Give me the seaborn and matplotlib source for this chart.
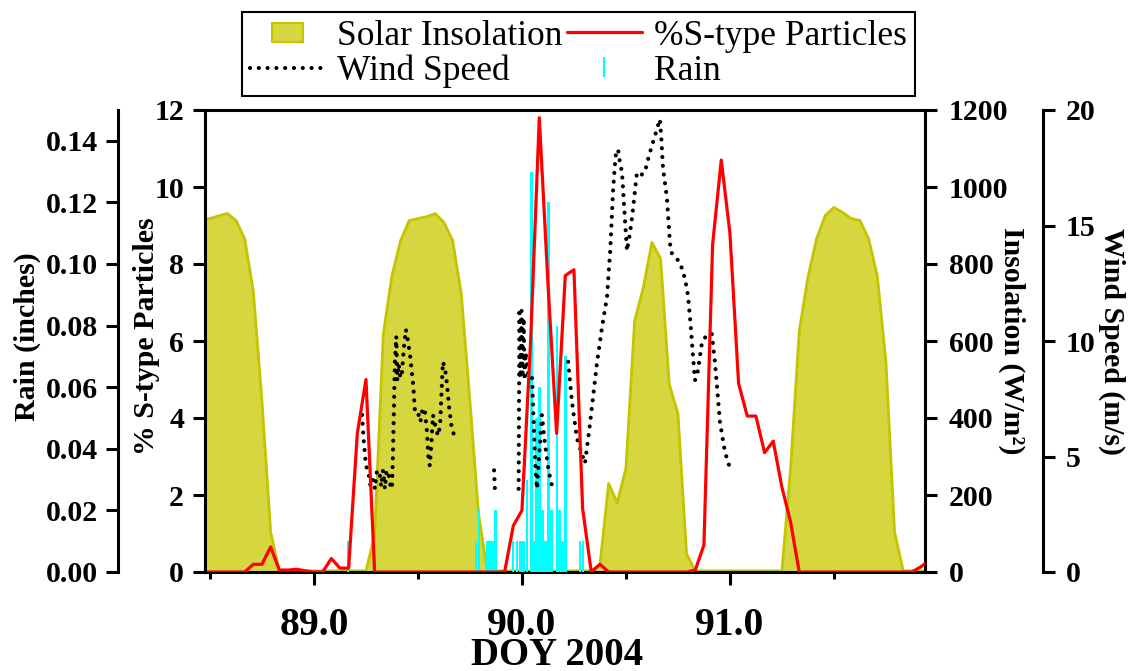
import numpy as np
import pandas as pd
import matplotlib
matplotlib.use("Agg")
import matplotlib.pyplot as plt
import seaborn as sns
from matplotlib.lines import Line2D
from matplotlib.patches import Patch, Rectangle
from matplotlib.legend_handler import HandlerPatch
from matplotlib.ticker import MultipleLocator, FixedLocator, FormatStrFormatter

# ---------------------------------------------------------------------------
# Data
# ---------------------------------------------------------------------------
# Hourly time base: DOY 88 10:00 through DOY 91 23:00
hour_day = 88 + np.arange(10, 96) / 24.0

# Solar insolation (W/m^2), hourly
solar_wm2 = [
    905, 915, 918, 925, 931, 913, 866, 730, 443, 104, 3, 3, 3, 3,                      # DOY 88
    3, 3, 3, 3, 3, 3, 3, 96, 618, 770, 861, 913, 918, 923, 931, 908, 861, 723, 443, 150, 3, 3, 3, 3,   # DOY 89
    3, 3, 3, 3, 3, 3, 3, 3, 3, 18, 230, 180, 270, 652, 738, 856, 814, 488, 412, 47, 3, 3, 3, 3,       # DOY 90
    3, 3, 3, 3, 3, 3, 3, 269, 626, 765, 866, 926, 947, 934, 918, 913, 866, 770, 548, 104, 3, 3, 3, 3, # DOY 91
]

# Percentage of S-type particles, hourly
pct_s = [
    0, 0, 0, 0, 0, 0, 0, 0.2, 0.2, 0.65, 0.05, 0.05, 0.07, 0.03,                                  # DOY 88
    0, 0, 0.35, 0.1, 0.1, 3.6, 5.0, 0, 0, 0, 0, 0, 0, 0, 0, 0, 0, 0, 0, 0, 0, 0, 0, 1.2,          # DOY 89
    1.6, 6.0, 11.8, 7.5, 3.6, 7.7, 7.85, 1.65, 0, 0.2, 0, 0, 0, 0, 0, 0, 0, 0, 0, 0, 0.05, 0.7, 8.5, 10.7,  # DOY 90
    8.8, 4.9, 4.05, 4.05, 3.1, 3.4, 2.2, 1.3, 0, 0, 0, 0, 0, 0, 0, 0, 0, 0, 0, 0, 0, 0, 0.13, 0.3,  # DOY 91
]

# Wind speed (m/s); the record has gaps, so it is split into segments
wind_day = [
    89.231, 89.240, 89.250, 89.262, 89.272, 89.284, 89.293, 89.303, 89.315, 89.323,
    89.332, 89.341, 89.348, 89.356, 89.366, 89.375, 89.380, 89.389, 89.396, 89.400,
    89.408, 89.415, 89.423, 89.432, 89.442, 89.452, 89.463, 89.477, 89.486, 89.500,
    89.512, 89.522, 89.534, 89.543, 89.550, 89.557, 89.565, 89.572, 89.582, 89.596,
    89.606, 89.620, 89.630, 89.640, 89.650, 89.663, 89.675, 89.688,
    89.866, 89.870,
    89.984, 89.988, 89.993, 89.998, 90.003, 90.008, 90.013, 90.018, 90.030, 90.048,
    90.058, 90.066, 90.072, 90.096, 90.110, 90.128, 90.150,
    90.222, 90.240, 90.264, 90.285, 90.303, 90.327, 90.360, 90.385, 90.409, 90.425,
    90.438, 90.450, 90.462, 90.470, 90.481, 90.495, 90.505, 90.518, 90.529, 90.553,
    90.575, 90.591, 90.610, 90.630, 90.650, 90.663, 90.670, 90.678, 90.697, 90.712,
    90.721, 90.740, 90.760, 90.784, 90.798, 90.812, 90.822, 90.832, 90.846, 90.865,
    90.890, 90.913, 90.928, 90.952, 90.976, 91.000,
]
wind_speed = [
    6.8, 5.6, 4.6, 4.3, 3.7, 4.0, 3.6, 4.4, 4.3, 3.7,
    4.4, 3.6, 4.3, 4.4, 3.8, 3.6, 5.2, 9.1, 10.2, 8.3,
    9.0, 8.4, 8.6, 9.7, 10.5, 10.0, 9.3, 8.1, 6.9, 6.9,
    6.5, 7.1, 6.9, 6.1, 5.0, 4.6, 5.6, 6.8, 6.4, 5.9,
    6.3, 9.1, 8.8, 8.1, 7.1, 6.2, 5.9, 5.7,
    4.4, 3.6,
    3.6, 11.4, 8.4, 11.3, 8.6, 11.0, 8.3, 9.5, 8.6, 8.6,
    6.0, 4.3, 3.6, 6.8, 5.6, 4.4, 3.5,
    9.1, 7.4, 5.8, 5.2, 4.7, 6.4, 9.0, 10.6, 11.9, 14.0,
    16.5, 18.0, 18.3, 17.8, 17.3, 15.3, 13.9, 14.6, 15.3, 17.3,
    17.2, 17.3, 18.0, 18.6, 19.2, 19.6, 18.8, 17.5, 16.2, 14.2,
    13.8, 13.6, 13.4, 12.7, 12.0, 10.6, 9.4, 8.3, 8.7, 9.9,
    10.3, 10.3, 9.1, 6.5, 5.2, 4.5,
]
wind_seg = [1] * 48 + [2] * 2 + [3] * 17 + [4] * 46

# Rain (inches)
rain_day = [
    89.164, 89.779, 89.793, 89.834, 89.846, 89.858, 89.873, 89.957, 89.976, 89.993,
    90.007, 90.024, 90.046, 90.060, 90.070, 90.084, 90.099, 90.113, 90.127, 90.142,
    90.168, 90.180, 90.195, 90.209, 90.279, 90.293,
]
rain_in = [
    0.01, 0.01, 0.02, 0.01, 0.01, 0.01, 0.02, 0.01, 0.01, 0.01,
    0.01, 0.03, 0.13, 0.01, 0.05, 0.06, 0.02, 0.01, 0.12, 0.02,
    0.08, 0.02, 0.01, 0.07, 0.01, 0.01,
]

x_major = [89.0, 90.0, 91.0]
x_minor = [88.5, 89.5, 90.5, 91.5]

SOLAR_FILL = "#d6d63e"
SOLAR_EDGE = "#c4c400"
RED = "#ff0000"
CYAN = "#00ffff"
WIND_LW = 3.0
WIND_DOTS = (0, (0.01, 2.1))

# ---------------------------------------------------------------------------
# Style
# ---------------------------------------------------------------------------
sns.set_theme(style="ticks")
plt.rcParams.update({
    "font.family": ["Liberation Serif", "DejaVu Serif"],
    "font.weight": "bold",
    "axes.labelweight": "bold",
    "text.color": "black",
    "axes.labelcolor": "black",
    "axes.edgecolor": "black",
    "xtick.color": "black",
    "ytick.color": "black",
    "axes.linewidth": 2.2,
})

fig = plt.figure(figsize=(11.34, 6.71), dpi=100)
FW, FH = 1134, 671
L, R, B, T = 205, 925, 572, 110
ax_ins = fig.add_axes([L / FW, 1 - B / FH, (R - L) / FW, (B - T) / FH])
ax_rain = ax_ins.twinx()
ax_wind = ax_ins.twinx()
ax_s = ax_ins.twinx()

# Solar insolation: filled area with outline
ax_ins.fill_between(hour_day, solar_wm2, 0, color=SOLAR_FILL, lw=0, zorder=1)
sns.lineplot(x=hour_day, y=solar_wm2, color=SOLAR_EDGE, lw=2.0, ax=ax_ins, zorder=2)

# Rain bars
ax_rain.bar(rain_day, rain_in, width=0.011, color=CYAN, lw=0)

# Wind speed, dotted, one line per continuous segment
wind_df = pd.DataFrame({"day": wind_day, "speed": wind_speed, "seg": wind_seg})
sns.lineplot(data=wind_df, x="day", y="speed", units="seg", estimator=None,
             sort=False, color="black", lw=WIND_LW, linestyle=WIND_DOTS,
             dash_capstyle="round", ax=ax_wind, legend=False)

# S-type particle percentage
sns.lineplot(x=hour_day, y=pct_s, color=RED, lw=2.3, ax=ax_s)

# ---------------------------------------------------------------------------
# Axes
# ---------------------------------------------------------------------------
for a in (ax_ins, ax_rain, ax_wind, ax_s):
    a.set_xlim(88.476, 91.938)
    a.patch.set_visible(False)
ax_ins.set_ylim(0, 1200)
ax_rain.set_ylim(0, 0.15)
ax_wind.set_ylim(0, 20)
ax_s.set_ylim(0, 12)

# spines
for side in ("top", "bottom", "right"):
    ax_ins.spines[side].set_visible(True)
    ax_ins.spines[side].set_linewidth(2.2)
ax_ins.spines["left"].set_visible(False)
for a, keep in ((ax_rain, "left"), (ax_wind, "right"), (ax_s, "left")):
    for side in ("top", "bottom", "left", "right"):
        a.spines[side].set_visible(side == keep)
    a.spines[keep].set_linewidth(2.2)
ax_rain.spines["left"].set_position(("outward", 62.6))
ax_wind.spines["right"].set_position(("outward", 85))

# x axis
ax_ins.xaxis.set_major_locator(FixedLocator(x_major))
ax_ins.xaxis.set_minor_locator(FixedLocator(x_minor))
ax_ins.xaxis.set_major_formatter(FormatStrFormatter("%.1f"))
ax_ins.tick_params(axis="x", which="major", direction="out", length=9.4, width=2.2,
                   labelsize=28.5, pad=16, bottom=True, top=False)
ax_ins.tick_params(axis="x", which="minor", direction="out", length=5, width=2.2,
                   bottom=True, top=False)

# insolation axis (right)
ax_ins.yaxis.tick_right()
ax_ins.yaxis.set_label_position("right")
ax_ins.yaxis.set_major_locator(MultipleLocator(200))
ax_ins.tick_params(axis="y", which="both", right=True, left=False, labelright=True,
                   labelleft=False, direction="out", length=8.6, width=2.2,
                   labelsize=21.5, pad=8.5)

# rain axis (far left)
ax_rain.yaxis.tick_left()
ax_rain.yaxis.set_label_position("left")
ax_rain.yaxis.set_major_locator(MultipleLocator(0.02))
ax_rain.yaxis.set_major_formatter(FormatStrFormatter("%.2f"))
ax_rain.tick_params(axis="y", left=True, right=False, labelleft=True, labelright=False,
                    direction="out", length=8.6, width=2.2, labelsize=21.5, pad=6)

# wind axis (far right)
ax_wind.yaxis.set_major_locator(MultipleLocator(5))
ax_wind.tick_params(axis="y", right=True, left=False, labelright=True, labelleft=False,
                    direction="out", length=8.6, width=2.2, labelsize=21.5, pad=8)

# S-type axis (left)
ax_s.yaxis.tick_left()
ax_s.yaxis.set_label_position("left")
ax_s.yaxis.set_major_locator(MultipleLocator(2))
ax_s.tick_params(axis="y", left=True, right=False, labelleft=True, labelright=False,
                 direction="out", length=8.6, width=2.2, labelsize=21.5, pad=6.5)

for a in (ax_rain, ax_wind, ax_s):
    a.set_xlabel("")

# axis titles
ax_ins.set_xlabel("DOY 2004", fontsize=28, fontweight="bold")
ax_ins.xaxis.set_label_coords(0.489, -0.141)
ax_rain.set_ylabel("Rain (inches)", fontsize=21.5, fontweight="bold")
ax_rain.yaxis.set_label_coords(-0.228, 0.51)
ax_s.set_ylabel("% S-type Particles", fontsize=21.5, fontweight="bold")
ax_s.yaxis.set_label_coords(-0.0625, 0.51)
ax_ins.set_ylabel("Insolation (W/m²)", fontsize=21.5, fontweight="bold",
                  rotation=270, va="bottom", ha="center", rotation_mode="anchor")
ax_ins.yaxis.set_label_coords(1.1014, 0.5)
ax_wind.set_ylabel("Wind Speed (m/s)", fontsize=21.5, fontweight="bold",
                   rotation=270, va="bottom", ha="center", rotation_mode="anchor")
ax_wind.yaxis.set_label_coords(1.2403, 0.5)

# ---------------------------------------------------------------------------
# Legend
# ---------------------------------------------------------------------------
def small_box(legend, orig_handle, xdescent, ydescent, width, height, fontsize):
    return Rectangle((-xdescent + 0.30 * width, -ydescent + 0.12 * height),
                     0.41 * width, 0.76 * height)

h_solar = Patch(facecolor=SOLAR_FILL, edgecolor=SOLAR_EDGE, lw=1.5)
h_wind = Line2D([], [], color="black", lw=WIND_LW, linestyle=WIND_DOTS,
                dash_capstyle="round")
h_s = Line2D([], [], color=RED, lw=2.3)
h_rain = Line2D([], [], color=CYAN, marker="|", markersize=15, mew=1.6, linestyle="None")

leg = fig.legend(
    handles=[h_solar, h_wind, h_s, h_rain],
    labels=["Solar Insolation", "Wind Speed", "%S-type Particles", "Rain"],
    ncol=2, loc="upper left", bbox_to_anchor=(242 / FW, 1 - 12 / FH),
    borderaxespad=0, prop={"size": 25.5, "weight": "normal"},
    handlelength=2.1, handletextpad=0.35, columnspacing=0.15,
    borderpad=0.22, labelspacing=0.05, numpoints=1,
    frameon=True, fancybox=False, framealpha=1, edgecolor="black",
    handler_map={Patch: HandlerPatch(patch_func=small_box)},
)
leg.get_frame().set_linewidth(1.5)

fig.savefig("out.png", dpi=100)
